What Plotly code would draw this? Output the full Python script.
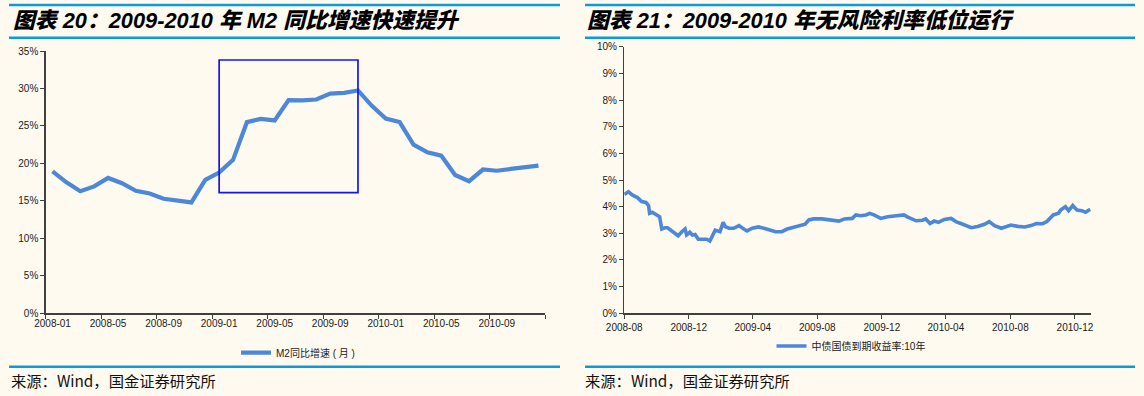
import plotly.graph_objects as go

# ---------------- data ----------------
m2_months = ["2008-01", "2008-02", "2008-03", "2008-04", "2008-05", "2008-06", "2008-07", "2008-08",
             "2008-09", "2008-10", "2008-11", "2008-12", "2009-01", "2009-02", "2009-03", "2009-04",
             "2009-05", "2009-06", "2009-07", "2009-08", "2009-09", "2009-10", "2009-11", "2009-12",
             "2010-01", "2010-02", "2010-03", "2010-04", "2010-05", "2010-06", "2010-07", "2010-08",
             "2010-09", "2010-10", "2010-11", "2010-12"]
m2_yoy = [18.94, 17.48, 16.29, 16.94, 18.07, 17.37, 16.35, 16.00, 15.29, 15.00, 14.80, 17.82,
          18.79, 20.48, 25.51, 25.95, 25.74, 28.46, 28.42, 28.53, 29.31, 29.42, 29.74, 27.68,
          25.98, 25.52, 22.50, 21.48, 21.04, 18.46, 17.63, 19.19, 19.03, 19.27, 19.46, 19.72]
m2_label_every = 4
m2_yticks = [0, 5, 10, 15, 20, 25, 30, 35]

bond_dates = ["2008-08-01", "2008-08-09", "2008-08-16", "2008-08-26", "2008-09-03", "2008-09-11",
              "2008-09-16", "2008-09-18", "2008-09-23", "2008-10-03", "2008-10-07", "2008-10-11",
              "2008-10-17", "2008-10-22", "2008-10-30", "2008-11-05", "2008-11-11", "2008-11-18",
              "2008-11-24", "2008-11-27", "2008-12-03", "2008-12-08", "2008-12-13", "2008-12-19",
              "2008-12-29", "2009-01-04", "2009-01-10", "2009-01-15", "2009-01-20", "2009-01-29",
              "2009-02-04", "2009-02-08", "2009-02-15", "2009-02-24", "2009-03-06", "2009-03-13",
              "2009-03-21", "2009-03-31", "2009-04-12", "2009-04-22", "2009-05-01", "2009-05-14",
              "2009-05-26", "2009-06-05", "2009-06-14", "2009-06-21", "2009-06-30", "2009-07-09",
              "2009-07-16", "2009-07-25", "2009-08-10", "2009-08-23", "2009-09-02", "2009-09-11",
              "2009-09-21", "2009-10-06", "2009-10-13", "2009-10-22", "2009-11-01", "2009-11-08",
              "2009-11-16", "2009-11-29", "2009-12-12", "2009-12-21", "2010-01-03", "2010-01-12",
              "2010-01-18", "2010-01-28", "2010-02-04", "2010-02-16", "2010-02-22", "2010-03-02",
              "2010-03-10", "2010-03-18", "2010-03-29", "2010-04-11", "2010-04-20", "2010-05-03",
              "2010-05-19", "2010-05-31", "2010-06-13", "2010-06-22", "2010-07-02", "2010-07-15",
              "2010-07-24", "2010-08-02", "2010-08-15", "2010-08-28", "2010-09-09", "2010-09-19",
              "2010-10-01", "2010-10-09", "2010-10-21", "2010-10-31", "2010-11-04", "2010-11-13",
              "2010-11-19", "2010-11-27", "2010-12-05", "2010-12-14", "2010-12-21", "2010-12-30"]
bond_yield = [4.46, 4.56, 4.44, 4.34, 4.19, 4.16, 4.04, 3.75, 3.79, 3.69, 3.62, 3.16,
              3.21, 3.21, 3.09, 3.00, 2.91, 3.06, 3.16, 2.94, 3.04, 2.94, 2.96, 2.78,
              2.79, 2.78, 2.71, 2.94, 3.12, 3.06, 3.41, 3.25, 3.19, 3.19, 3.29, 3.19,
              3.09, 3.19, 3.24, 3.19, 3.14, 3.06, 3.06, 3.16, 3.21, 3.25, 3.29, 3.34,
              3.50, 3.54, 3.54, 3.51, 3.50, 3.46, 3.54, 3.56, 3.69, 3.66, 3.69, 3.75,
              3.69, 3.56, 3.62, 3.64, 3.66, 3.69, 3.62, 3.52, 3.47, 3.49, 3.54, 3.37,
              3.46, 3.41, 3.52, 3.56, 3.44, 3.34, 3.21, 3.26, 3.34, 3.44, 3.29, 3.19,
              3.26, 3.31, 3.26, 3.24, 3.29, 3.37, 3.36, 3.44, 3.69, 3.75, 3.87, 4.00,
              3.85, 4.04, 3.87, 3.85, 3.79, 3.90]
bond_tick_dates = ["2008-08-01", "2008-12-01", "2009-04-01", "2009-08-01", "2009-12-01",
                   "2010-04-01", "2010-08-01", "2010-12-01"]
bond_tick_labels = ["2008-08", "2008-12", "2009-04", "2009-08", "2009-12", "2010-04", "2010-08", "2010-12"]
bond_yticks = [0, 1, 2, 3, 4, 5, 6, 7, 8, 9, 10]

title_left = "图表 20：2009-2010 年 M2 同比增速快速提升"
title_right = "图表 21：2009-2010 年无风险利率低位运行"
source_text = "来源：Wind，国金证券研究所"
legend_left = "M2同比增速 ( 月 )"
legend_right = "中债国债到期收益率:10年"

# ---------------- style ----------------
W, H = 1144, 396
BG = "#FFFAF0"
LINE_BLUE = "#4D88D8"
RULE_BLUE = "#0A9BDC"
AXIS_COL = "#404040"
TXT = "#1a1a1a"
FONT = "Liberation Sans, Arial, Noto Sans CJK SC, sans-serif"

def px_x(p):
    return p / W

def px_y(p):
    return 1 - p / H

m2_idx = list(range(len(m2_months)))

fig = go.Figure()
fig.add_trace(go.Scatter(x=m2_idx, y=m2_yoy, mode="lines", name=legend_left,
                         line=dict(color=LINE_BLUE, width=4.2), xaxis="x", yaxis="y",
                         legend="legend", hoverinfo="skip"))
fig.add_trace(go.Scatter(x=bond_dates, y=bond_yield, mode="lines", name=legend_right,
                         line=dict(color=LINE_BLUE, width=3.6), xaxis="x2", yaxis="y2",
                         legend="legend2", hoverinfo="skip"))

tick_font = dict(family=FONT, size=10, color=TXT)
axis_common = dict(showgrid=False, zeroline=False, showline=True, linecolor=AXIS_COL,
                   linewidth=1.3, tickfont=tick_font, automargin=False)

fig.update_layout(
    width=W, height=H,
    margin=dict(l=0, r=0, t=0, b=0, pad=0),
    paper_bgcolor=BG, plot_bgcolor=BG,
    showlegend=True,
    xaxis=dict(
        domain=[px_x(45.6), px_x(545.4)], anchor="y",
        range=[-0.5, len(m2_months) - 0.5],
        tickmode="array",
        tickvals=m2_idx[::m2_label_every],
        ticktext=m2_months[::m2_label_every],
        ticks="",
        minor=dict(tickmode="array",
                   tickvals=[i - 0.5 for i in range(0, len(m2_months) + 1, m2_label_every)],
                   ticks="outside", ticklen=4, tickcolor=AXIS_COL, tickwidth=1, showgrid=False),
        **axis_common,
    ),
    yaxis=dict(
        domain=[px_y(313.4), px_y(51)], anchor="x",
        range=[0, 35], tickmode="array", tickvals=m2_yticks,
        ticktext=[f"{v}%" for v in m2_yticks],
        ticks="outside", ticklen=4, tickcolor=AXIS_COL, tickwidth=1,
        **axis_common,
    ),
    xaxis2=dict(
        domain=[px_x(624.2), px_x(1090.8)], anchor="y2", type="date",
        range=["2008-08-01", "2010-12-31"],
        tickmode="array", tickvals=bond_tick_dates, ticktext=bond_tick_labels,
        ticks="outside", ticklen=4, tickcolor=AXIS_COL, tickwidth=1,
        **axis_common,
    ),
    yaxis2=dict(
        domain=[px_y(313.3), px_y(46.7)], anchor="x2",
        range=[0, 10], tickmode="array", tickvals=bond_yticks,
        ticktext=[f"{v}%" for v in bond_yticks],
        ticks="outside", ticklen=4, tickcolor=AXIS_COL, tickwidth=1,
        **axis_common,
    ),
    legend=dict(x=px_x(298), y=px_y(352.7), xanchor="center", yanchor="middle",
                orientation="h", bgcolor="rgba(0,0,0,0)",
                font=dict(family=FONT, size=10, color=TXT)),
    legend2=dict(x=px_x(851), y=px_y(346), xanchor="center", yanchor="middle",
                 orientation="h", bgcolor="rgba(0,0,0,0)",
                 font=dict(family=FONT, size=10, color=TXT)),
)

# highlight box on the M2 chart (2009-01 .. 2009-11)
fig.add_shape(type="rect", xref="x", yref="y", x0=m2_months.index("2009-01"),
              x1=m2_months.index("2009-11"), y0=16.1, y1=33.8,
              line=dict(color="#1414F0", width=1.7), fillcolor="rgba(0,0,0,0)")

# horizontal blue rules
for (a, b) in [(9, 560), (585, 1135)]:
    for yy in (5, 37.7, 366.7):
        fig.add_shape(type="line", xref="paper", yref="paper",
                      x0=px_x(a), x1=px_x(b), y0=px_y(yy), y1=px_y(yy),
                      line=dict(color=RULE_BLUE, width=2.6))

title_font = dict(family="Liberation Sans, Noto Sans CJK SC, sans-serif", size=21.8,
                  color="#000000", weight=900, style="italic")
for xx, txt in ((12, title_left), (586, title_right)):
    fig.add_annotation(text=txt, xref="paper", yref="paper", x=px_x(xx), y=px_y(21),
                       xanchor="left", yanchor="middle", align="left", showarrow=False,
                       borderpad=0, font=title_font)

src_font = dict(family="Noto Sans CJK SC, sans-serif", size=15.3, color="#111111")
for xx in (10, 584):
    fig.add_annotation(text=source_text, xref="paper", yref="paper", x=px_x(xx), y=px_y(380),
                       xanchor="left", yanchor="middle", align="left", showarrow=False,
                       borderpad=0, font=src_font)

fig.write_html("out.html", config={"displayModeBar": False, "staticPlot": True},
               post_script="document.body.style.margin='0';document.body.style.overflow='hidden';")
